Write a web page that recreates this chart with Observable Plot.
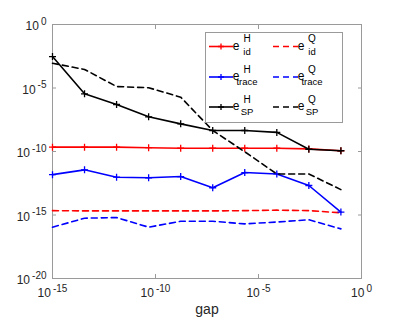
<!DOCTYPE html>
<html><head><meta charset="utf-8">
<script src="https://cdn.jsdelivr.net/npm/d3@7"></script>
<script src="https://cdn.jsdelivr.net/npm/@observablehq/plot@0.6"></script>
<style>body{margin:0;background:#fff} svg{display:block}</style>
</head><body><div id="chart"></div>
<script>
// gap values (x)
const gap = [1e-15, 3.59e-14, 1.29e-12, 4.64e-11, 1.67e-9, 5.99e-8, 2.15e-6, 7.74e-5, 2.78e-3, 1e-1];
// series values (y)
const eHid    = [2.2e-10, 2.2e-10, 2.2e-10, 2.0e-10, 1.8e-10, 1.8e-10, 1.8e-10, 1.8e-10, 1.6e-10, 1.15e-10];
const eQid    = [2.2e-15, 2.1e-15, 2.1e-15, 2.1e-15, 2.1e-15, 2.1e-15, 2.2e-15, 2.4e-15, 2.2e-15, 1.5e-15];
const eHtrace = [1.5e-12, 3.6e-12, 9.5e-13, 8.5e-13, 1.07e-12, 1.4e-13, 2.2e-12, 1.7e-12, 2.1e-13, 1.7e-15];
const eQtrace = [1.1e-16, 5.6e-16, 6.3e-16, 1.1e-16, 3.2e-16, 3.2e-16, 2.0e-16, 2.8e-16, 4.2e-16, 8.1e-17];
const eHSP    = [3.0e-3, 3.5e-6, 5.0e-7, 5.4e-8, 1.5e-8, 4.5e-9, 4.5e-9, 3.2e-9, 1.5e-10, 1.15e-10];
const eQSP    = [8.9e-4, 2.9e-4, 1.3e-5, 1.05e-5, 1.9e-6, 4.5e-9, 9.5e-11, 1.7e-12, 1.7e-12, 1.0e-13];

const seriesValues = [eHid, eQid, eHtrace, eQtrace, eHSP, eQSP];
const seriesSup = ["H", "Q", "H", "Q", "H", "Q"];
const seriesSub = ["id", "id", "trace", "trace", "SP", "SP"];
const seriesColor = ["#ff0000", "#ff0000", "#0000ff", "#0000ff", "#000000", "#000000"];
const seriesDashed = [false, true, false, true, false, true];

const xTicks = [1e-15, 1e-10, 1e-5, 1];
const yTicks = [1e-20, 1e-15, 1e-10, 1e-5, 1];
const xLabel = "gap";

const frameColor = "#9a9a9a";
const textColor = "#262626";

const plusSymbol = {
  draw(ctx, size) {
    const r = Math.sqrt(size / Math.PI);
    ctx.moveTo(-r, 0); ctx.lineTo(r, 0);
    ctx.moveTo(0, -r); ctx.lineTo(0, r);
  }
};

const seriesData = seriesValues.map(vals => gap.map((g, i) => ({gap: g, value: vals[i]})));

const marks = [
  Plot.frame({stroke: frameColor}),
  // inward tick marks on all four sides
  Plot.axisX(xTicks, {anchor: "bottom", tickSize: 4, dy: -4, tickFormat: () => "", stroke: frameColor, label: null}),
  Plot.axisX(xTicks, {anchor: "top", tickSize: 4, dy: 4, tickFormat: () => "", stroke: frameColor, label: null}),
  Plot.axisY(yTicks, {anchor: "left", tickSize: 4, dx: 4, tickFormat: () => "", stroke: frameColor, label: null}),
  Plot.axisY(yTicks, {anchor: "right", tickSize: 4, dx: -4, tickFormat: () => "", stroke: frameColor, label: null}),
  // tick labels
  Plot.axisX(xTicks, {anchor: "bottom", tickSize: 0, tickPadding: 10, fontSize: 12, fill: textColor,
    tickFormat: d => String(Math.round(Math.log10(d))), label: null}),
  Plot.axisY(yTicks, {anchor: "left", tickSize: 0, tickPadding: 6, dy: 2, fontSize: 12, fill: textColor,
    tickFormat: d => String(Math.round(Math.log10(d))), label: null}),
  Plot.text([xLabel], {text: d => d, frameAnchor: "bottom", dy: 35, fontSize: 14, fill: textColor})
];

seriesData.forEach((data, k) => {
  marks.push(Plot.line(data, {x: "gap", y: "value", stroke: seriesColor[k], strokeWidth: 1.6,
    strokeDasharray: seriesDashed[k] ? "6,4" : null}));
  if (!seriesDashed[k]) {
    marks.push(Plot.dot(data, {x: "gap", y: "value", stroke: seriesColor[k], r: 3.5, symbol: plusSymbol, strokeWidth: 1.3}));
  }
});

const svg = Plot.plot({
  width: 399,
  height: 323,
  marginLeft: 52,
  marginRight: 38,
  marginTop: 24,
  marginBottom: 45,
  style: {fontFamily: "'Liberation Sans', Arial, sans-serif", fontSize: "12px", background: "white", color: textColor},
  x: {type: "log", domain: [1e-15, 1]},
  y: {type: "log", domain: [1e-20, 1]},
  marks
});

// superscript tick labels: 10^n
d3.select(svg).selectAll('g[aria-label="x-axis tick label"] text, g[aria-label="y-axis tick label"] text').each(function() {
  const t = d3.select(this);
  const e = t.text();
  if (e === "") return;
  t.text("10");
  t.append("tspan").attr("dx", 2).attr("dy", -5.5).attr("font-size", 10).text(e);
});

// legend
const lg = d3.select(svg).append("g").attr("font-family", "'Liberation Sans', Arial, sans-serif").attr("fill", "#000");
const bx = 205, by = 32, bw = 137, bh = 90;
lg.append("rect").attr("x", bx + 0.5).attr("y", by + 0.5).attr("width", bw).attr("height", bh)
  .attr("fill", "white").attr("stroke", frameColor);
const rowY = [46.5, 77, 107];
const colLine = [[209, 233], [273, 298]];
const colText = [236, 301];
seriesValues.forEach((_, k) => {
  const row = Math.floor(k / 2), col = k % 2;
  const y = rowY[row];
  lg.append("line").attr("x1", colLine[col][0]).attr("x2", colLine[col][1]).attr("y1", y).attr("y2", y)
    .attr("stroke", seriesColor[k]).attr("stroke-width", 1.6)
    .attr("stroke-dasharray", seriesDashed[k] ? "6,4" : null);
  if (!seriesDashed[k]) {
    const cx = (colLine[col][0] + colLine[col][1]) / 2;
    lg.append("path").attr("d", `M${cx - 3},${y}H${cx + 3}M${cx},${y - 3}V${y + 3}`)
      .attr("stroke", seriesColor[k]).attr("stroke-width", 1.3).attr("fill", "none");
  }
  const tx = colText[col];
  lg.append("text").attr("x", tx).attr("y", y + 3).attr("font-size", 12).text("e");
  lg.append("text").attr("x", tx + 11).attr("y", y - 4.5).attr("font-size", 10).text(seriesSup[k]);
  lg.append("text").attr("x", tx + 11).attr("y", y + 8).attr("font-size", 9.5).text(seriesSub[k]);
});

document.getElementById("chart").appendChild(svg);
</script>
</body></html>
